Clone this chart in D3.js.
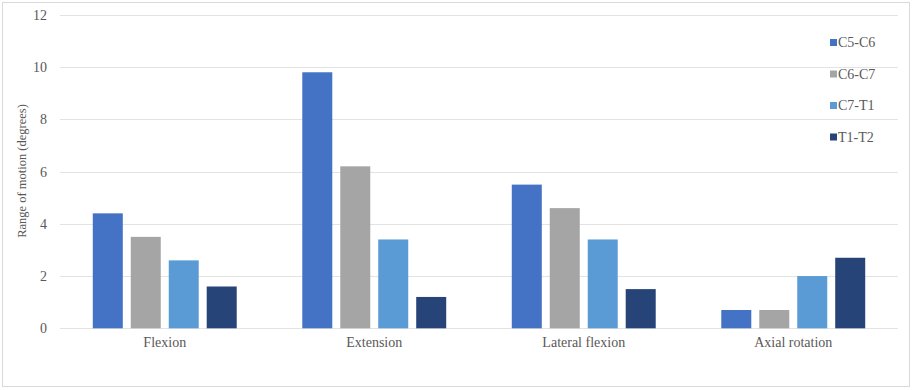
<!DOCTYPE html>
<html>
<head>
<meta charset="utf-8">
<title>Range of motion</title>
<script src="https://cdn.jsdelivr.net/npm/d3@7"></script>
<style>
  body { margin: 0; background: #fff; }
  svg text { font-family: 'Liberation Serif', 'DejaVu Serif', serif !important; fill: #595959; }
</style>
</head>
<body>
<svg id="chart" width="913" height="390"></svg>
<script>
// data
const categories = ["Flexion", "Extension", "Lateral flexion", "Axial rotation"];
const seriesNames = ["C5-C6", "C6-C7", "C7-T1", "T1-T2"];
const c5c6 = [4.4, 9.8, 5.5, 0.7];
const c6c7 = [3.5, 6.2, 4.6, 0.7];
const c7t1 = [2.6, 3.4, 3.4, 2.0];
const t1t2 = [1.6, 1.2, 1.5, 2.7];
const yTicks = [0, 2, 4, 6, 8, 10, 12];
const colors = ["#4472C4", "#A5A5A5", "#5B9BD5", "#264478"];

const allSeries = [c5c6, c6c7, c7t1, t1t2];
const serif = "'Liberation Serif', 'DejaVu Serif', serif";

const svg = d3.select("#chart");

// outer chart border
svg.append("rect")
  .attr("x", 2.5).attr("y", 2.5)
  .attr("width", 907).attr("height", 384)
  .attr("fill", "none")
  .attr("stroke", "#d9d9d9");

const plot = { left: 60, right: 898, top: 14.8, bottom: 328.3 };

const y = d3.scaleLinear().domain([0, 12]).range([plot.bottom, plot.top]);
const x0 = d3.scaleBand().domain(categories).range([plot.left, plot.right]).padding(0);
const groupW = x0.bandwidth() * 0.687;
const x1 = d3.scaleBand().domain(seriesNames)
  .range([(x0.bandwidth() - groupW) / 2, (x0.bandwidth() + groupW) / 2])
  .paddingInner(0.21).paddingOuter(0);

// gridlines
svg.append("g").selectAll("line")
  .data(yTicks)
  .join("line")
  .attr("x1", plot.left).attr("x2", plot.right)
  .attr("y1", d => Math.round(y(d)) + 0.5)
  .attr("y2", d => Math.round(y(d)) + 0.5)
  .attr("stroke", "#e3e3e3")
  .attr("stroke-width", 1);

// y axis labels
const yAxis = svg.append("g")
  .attr("transform", `translate(${plot.left - 13},0)`)
  .call(d3.axisLeft(y).tickValues(yTicks).tickSize(0).tickPadding(0));
yAxis.attr("font-family", serif).attr("font-size", 14);
yAxis.select(".domain").remove();
yAxis.selectAll("text").attr("fill", "#595959");

// bars
const groups = svg.append("g").selectAll("g")
  .data(categories)
  .join("g")
  .attr("transform", d => `translate(${x0(d)},0)`);

groups.selectAll("rect")
  .data((d, i) => seriesNames.map((s, j) => ({ s, j, v: allSeries[j][i] })))
  .join("rect")
  .attr("x", d => x1(d.s))
  .attr("width", x1.bandwidth())
  .attr("y", d => y(d.v))
  .attr("height", d => y(0) - y(d.v))
  .attr("fill", d => colors[d.j]);

// category axis
const xAxis = svg.append("g")
  .attr("transform", `translate(0,${plot.bottom + 9})`)
  .call(d3.axisBottom(x0).tickSize(0).tickPadding(0));
xAxis.attr("font-family", serif).attr("font-size", 14);
xAxis.select(".domain").remove();
xAxis.selectAll("text").attr("fill", "#595959");

// y axis title
svg.append("text")
  .attr("transform", "translate(26,171) rotate(-90)")
  .attr("text-anchor", "middle")
  .attr("font-size", 12.5)
  .text("Range of motion (degrees)");

// legend
const legend = svg.append("g").attr("transform", "translate(830,42.5)");
const items = legend.selectAll("g")
  .data(seriesNames)
  .join("g")
  .attr("transform", (d, i) => `translate(0,${i * 31.5})`);
items.append("rect")
  .attr("x", 0).attr("y", -3.5)
  .attr("width", 7).attr("height", 7)
  .attr("fill", (d, i) => colors[i]);
items.append("text")
  .attr("x", 8)
  .attr("dy", "0.35em")
  .attr("font-size", 14)
  .text(d => d);
</script>
</body>
</html>
